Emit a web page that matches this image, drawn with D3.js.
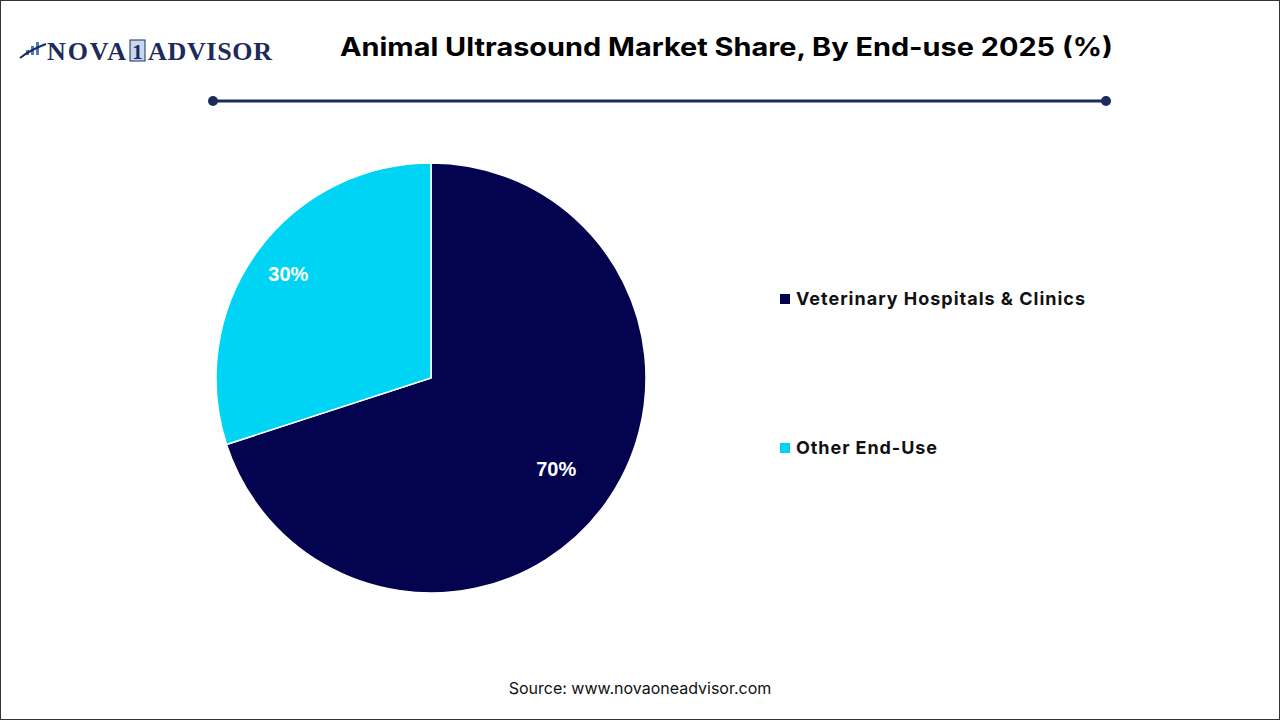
<!DOCTYPE html>
<html><head><meta charset="utf-8">
<script src="https://cdn.jsdelivr.net/npm/d3@7"></script>
<style>body{margin:0;background:#fff}svg{display:block}</style></head>
<body><svg id="c" width="1280" height="720"></svg>
<script>
const categories = ["Veterinary Hospitals & Clinics", "Other End-Use"];
const values = [70, 30];
const colors = ["#03034f", "#00d4f5"];

const svg = d3.select("#c");
svg.append("rect").attr("x",0.5).attr("y",0.5).attr("width",1279).attr("height",719).attr("fill","#fff").attr("stroke","#333");

// logo
const lg = svg.append("g");
[[26,50,5],[31,46,9],[36,42,13]].forEach(([x,y,h])=>lg.append("rect").attr("x",x).attr("y",y).attr("width",3).attr("height",h).attr("fill","#4a78c0"));
lg.append("path").attr("d","M20,58 Q30,50 46,44").attr("fill","none").attr("stroke","#1d2a5c").attr("stroke-width",2);
lg.append("text").attr("x",47).attr("y",60).attr("font-family","Liberation Serif").attr("font-weight","bold").attr("font-size",26).attr("fill","#1d2a5c").attr("textLength",79).text("NOVA");
lg.append("rect").attr("x",130).attr("y",40).attr("width",15).attr("height",21).attr("fill","#c7d7ee").attr("stroke","#1d2a5c");
lg.append("text").attr("x",137.5).attr("y",59).attr("text-anchor","middle").attr("font-family","Liberation Serif").attr("font-weight","bold").attr("font-size",21).attr("fill","#1d2a5c").text("1");
lg.append("text").attr("x",148).attr("y",60).attr("font-family","Liberation Serif").attr("font-weight","bold").attr("font-size",26).attr("fill","#1d2a5c").attr("textLength",124).text("ADVISOR");

svg.append("text").attr("x",340).attr("y",56).attr("font-family","Inter, Roboto, sans-serif").attr("font-weight","bold").attr("font-size",25).attr("fill","#000").attr("textLength",773).attr("lengthAdjust","spacingAndGlyphs").text("Animal Ultrasound Market Share, By End-use 2025 (%)");
svg.append("line").attr("x1",213).attr("x2",1106).attr("y1",101).attr("y2",101).attr("stroke","#1d2a5c").attr("stroke-width",3);
[213,1106].forEach(x=>svg.append("circle").attr("cx",x).attr("cy",101).attr("r",5).attr("fill","#1d2a5c"));

const cx=431, cy=378, r=215;
const pie = d3.pie().sort(null).value(d=>d)(values);
const arc = d3.arc().innerRadius(0).outerRadius(r);
const g = svg.append("g").attr("transform",`translate(${cx},${cy})`);
g.selectAll("path").data(pie).join("path").attr("d",arc).attr("fill",(d,i)=>colors[i]).attr("stroke","#fff").attr("stroke-width",1.5);
const lr = [0.72, 0.82];
g.selectAll("text").data(pie).join("text")
 .attr("transform",(d,i)=>`translate(${d3.arc().innerRadius(r*lr[i]).outerRadius(r*lr[i]).centroid(d)})`).attr("text-anchor","middle").attr("dy","0.35em")
 .attr("font-family","Liberation Sans, Arial, sans-serif").attr("font-weight","bold").attr("font-size",20).attr("fill","#fff")
 .text(d=>d.data+"%");

const leg = svg.append("g");
const legW = [289, 141];
categories.forEach((c,i)=>{
  const y = 299 + i*149;
  leg.append("rect").attr("x",780).attr("y",y-5).attr("width",10).attr("height",10).attr("fill",colors[i]);
  leg.append("text").attr("x",796).attr("y",y).attr("dy","0.35em").attr("font-family","Inter, Roboto, sans-serif").attr("font-weight","bold").attr("font-size",18).attr("fill","#111").attr("textLength",legW[i]).text(c);
});
svg.append("text").attr("x",640).attr("y",694).attr("text-anchor","middle").attr("font-family","Inter, Roboto, sans-serif").attr("font-size",16).attr("fill","#111").text("Source: www.novaoneadvisor.com");
</script></body></html>
